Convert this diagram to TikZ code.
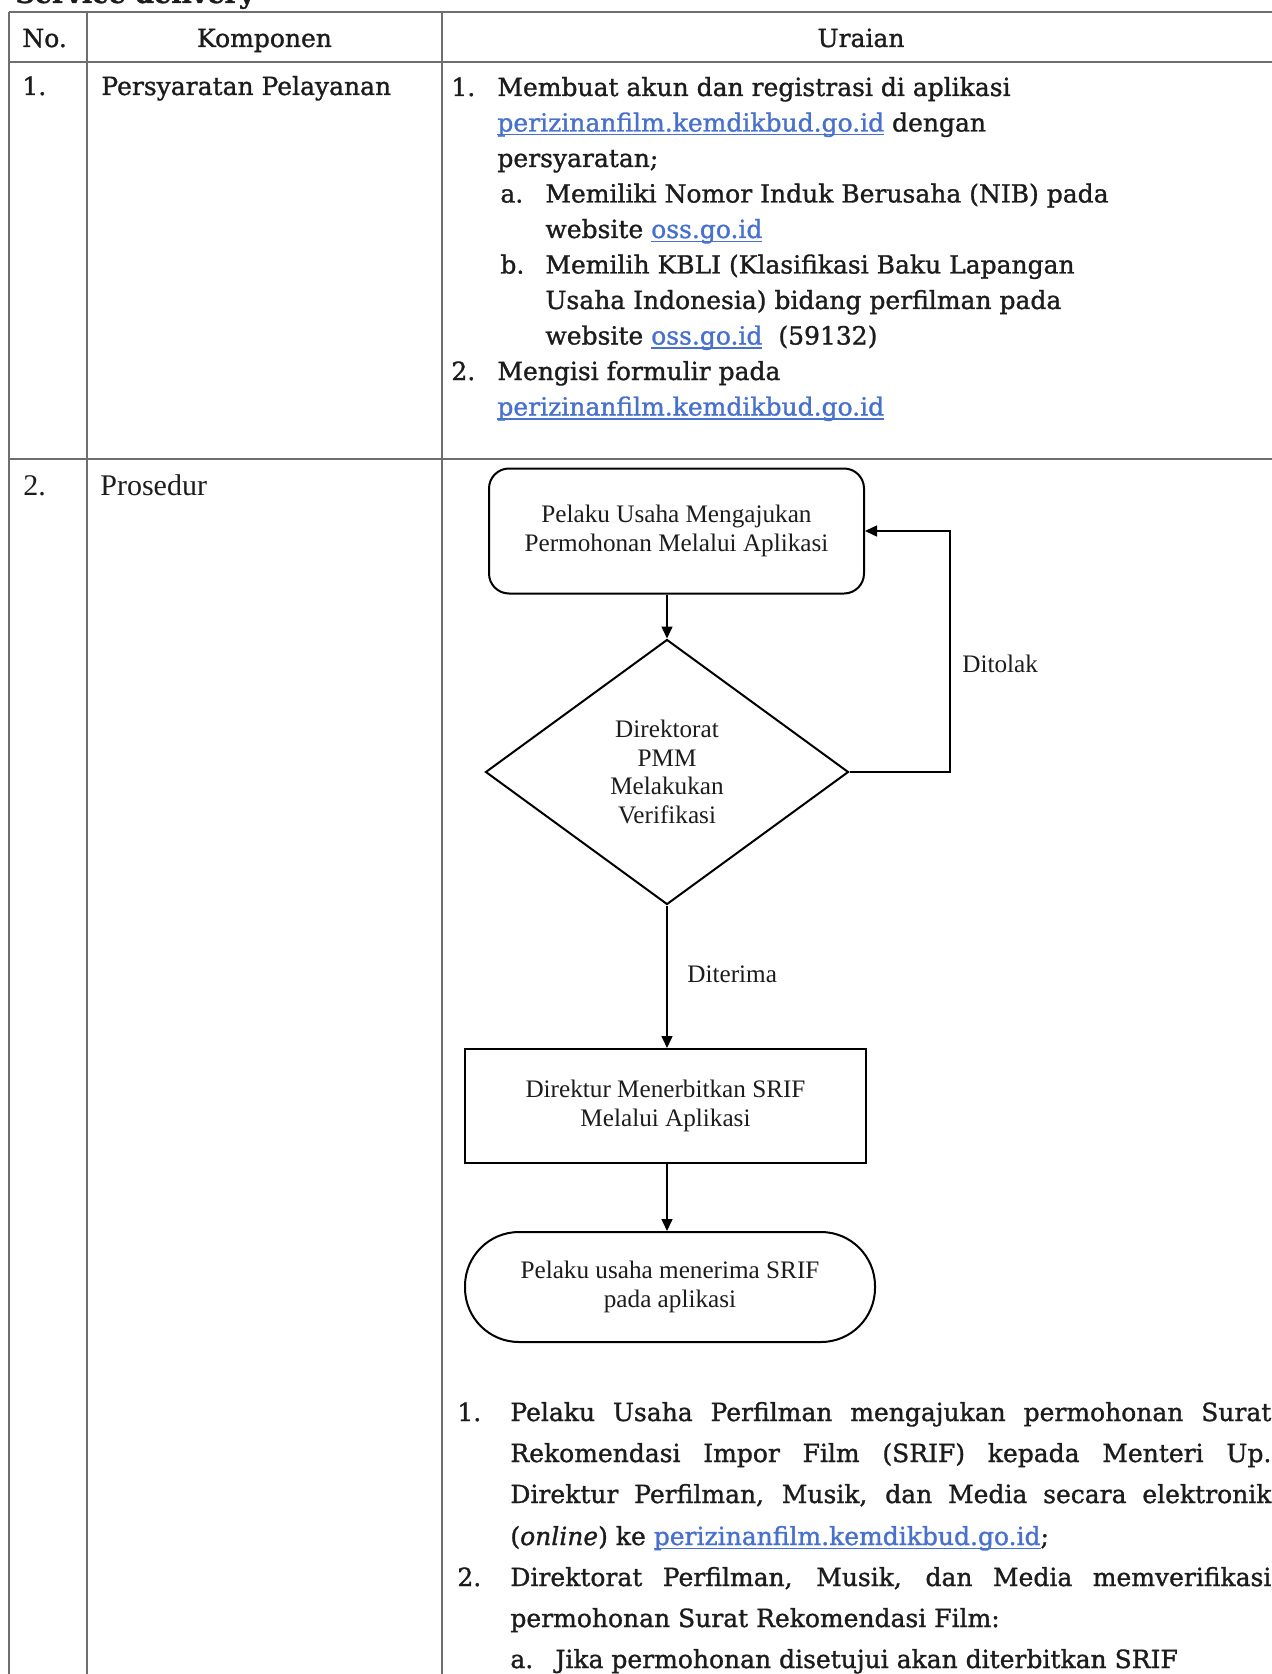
\documentclass[tikz,border=0pt]{standalone}
\usepackage{fontspec}
\setmainfont{Liberation Serif}
\newfontfamily\camfam{DejaVu Serif}[FakeBold=1.2]
\usetikzlibrary{arrows.meta,shapes.geometric}
\definecolor{txt}{RGB}{28,28,28}
\definecolor{tgray}{RGB}{110,110,110}
\definecolor{lnkc}{RGB}{72,112,205}
\newcommand\camf{\camfam\fontsize{12.5pt}{17.75pt}\selectfont}
\newcommand\flowf{\fontsize{12.6pt}{14.5pt}\selectfont}
\newcommand\lnk[1]{\textcolor{lnkc}{\setbox0\hbox{#1}\rlap{\rule[-2pt]{\wd0}{0.6pt}}#1}}
\tikzset{
  tline/.style={draw=tgray, line width=0.75pt},
  cam/.style={inner sep=0pt, anchor=base west, font=\camf, text=txt},
  tnr/.style={inner sep=0pt, anchor=base west, font=\fontsize{15pt}{17pt}\selectfont, text=txt},
  fbox/.style={draw, line width=1pt, align=center, font=\flowf, inner sep=0pt, text=txt},
  flab/.style={inner sep=0pt, anchor=base west, font=\flowf, text=txt},
  conn/.style={line width=0.75pt, -{Triangle[length=6pt,width=5.5pt]}},
}
\begin{document}
\begin{tikzpicture}[x=0.5pt,y=-0.5pt]
\useasboundingbox (0,0) rectangle (1272,1674);
% title (cut off at the top, as in the reference)
\node[inner sep=0pt, anchor=base west, font=\camfam\bfseries\fontsize{13.5pt}{16pt}\selectfont, text=txt] (title) at (15,3) {Service delivery};
% table grid
\draw[tline] (9,12) -- (1300,12);
\draw[tline] (9,62) -- (1300,62);
\draw[tline] (9,459) -- (1300,459);
\draw[tline] (9,12) -- (9,1700);
\draw[tline] (87,12) -- (87,1700);
\draw[tline] (442,12) -- (442,1700);
% header
\node[cam] (hno) at (22,47) {No.};
\node[cam, anchor=base] (hkomp) at (264.5,47) {Komponen};
\node[cam, anchor=base] (hur) at (861,47) {Uraian};
% row 1
\node[cam] (n1) at (22,95) {1.};
\node[cam] (k1) at (101,95) {Persyaratan Pelayanan};
\node[cam] (i1) at (451,96) {1.};
\node[cam] (l1) at (497,96) {Membuat akun dan registrasi di aplikasi};
\node[cam] (l2) at (497,131.5) {\lnk{perizinanfilm.kemdikbud.go.id} dengan};
\node[cam] (l3) at (497,167) {persyaratan;};
\node[cam] (ia) at (500,202.5) {a.};
\node[cam] (l4) at (545,202.5) {Memiliki Nomor Induk Berusaha (NIB) pada};
\node[cam] (l5) at (545,238) {website \lnk{oss.go.id}};
\node[cam] (ib) at (500,273.5) {b.};
\node[cam] (l6) at (545,273.5) {Memilih KBLI (Klasifikasi Baku Lapangan};
\node[cam] (l7) at (545,309) {Usaha Indonesia) bidang perfilman pada};
\node[cam] (l8) at (545,344.5) {website \lnk{oss.go.id}\hspace{8pt}(59132)};
\node[cam] (i2) at (451,380) {2.};
\node[cam] (l9) at (497,380) {Mengisi formulir pada};
\node[cam] (l10) at (497,415.5) {\lnk{perizinanfilm.kemdikbud.go.id}};
% row 2
\node[tnr] (n2) at (23,495) {2.};
\node[tnr] (k2) at (100,495) {Prosedur};
% flowchart
\node[fbox, rounded corners=10pt, minimum width=187.5pt, minimum height=62.5pt] (A) at (676.5,531) {Pelaku Usaha Mengajukan\\Permohonan Melalui Aplikasi};
\node[fbox, diamond, minimum width=181.5pt, minimum height=132.5pt, font=\fontsize{12.6pt}{14.3pt}\selectfont] (D) at (667,772) {Direktorat\\PMM\\Melakukan\\Verifikasi};
\node[fbox, rectangle, minimum width=200.5pt, minimum height=57pt] (B) at (665.5,1106) {Direktur Menerbitkan SRIF\\Melalui Aplikasi};
\node[fbox, rectangle, rounded corners=27pt, minimum width=205pt, minimum height=55pt] (C) at (670,1287) {Pelaku usaha menerima SRIF\\pada aplikasi};
\coordinate (L) at (950,531);
\draw[conn] (D.north |- A.south) -- (D.north);
\draw[conn] (D.south) -- (D.south |- B.north);
\draw[conn] (D.south |- B.south) -- (D.south |- C.north);
\draw[conn] (D.east) -| (L) -- (A.east);
\node[flab] (tolak) at (962,672) {Ditolak};
\node[flab] (terima) at (687,982) {Diterima};
% bottom text
\node[cam] (b1n) at (457,1421) {1.};
\node[cam] (b1) at (510,1421) {\makebox[380.5pt][s]{Pelaku Usaha Perfilman mengajukan permohonan Surat}};
\node[cam] (b2) at (510,1462) {\makebox[380.5pt][s]{Rekomendasi Impor Film (SRIF) kepada Menteri Up.}};
\node[cam] (b3) at (510,1503) {\makebox[380.5pt][s]{Direktur Perfilman, Musik, dan Media secara elektronik}};
\node[cam] (b4) at (510,1545) {(\textit{online}) ke \lnk{perizinanfilm.kemdikbud.go.id};};
\node[cam] (b5n) at (457,1586) {2.};
\node[cam] (b5) at (510,1586) {\makebox[380.5pt][s]{Direktorat Perfilman, Musik, dan Media memverifikasi}};
\node[cam] (b6) at (510,1627) {permohonan Surat Rekomendasi Film:};
\node[cam] (b7n) at (510,1668) {a.};
\node[cam] (b7) at (555,1668) {Jika permohonan disetujui akan diterbitkan SRIF};
\end{tikzpicture}
\end{document}
